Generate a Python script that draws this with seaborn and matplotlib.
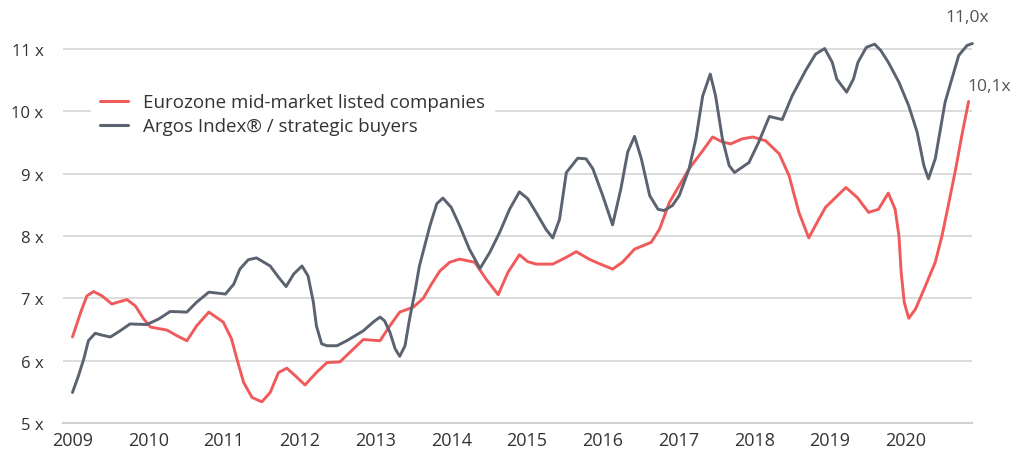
import numpy as np
import pandas as pd
import matplotlib
matplotlib.use("Agg")
import matplotlib.pyplot as plt
import seaborn as sns
from matplotlib.lines import Line2D

# ---- data ----
euro_x = [2009.00, 2009.11, 2009.19, 2009.28, 2009.39, 2009.52, 2009.63, 2009.72, 2009.83,
          2009.94, 2010.03, 2010.25, 2010.38, 2010.51, 2010.64, 2010.80, 2010.99, 2011.10,
          2011.17, 2011.26, 2011.37, 2011.50, 2011.61, 2011.72, 2011.83, 2011.94, 2012.07,
          2012.22, 2012.36, 2012.53, 2012.71, 2012.84, 2013.06, 2013.19, 2013.32, 2013.50,
          2013.63, 2013.74, 2013.85, 2013.98, 2014.11, 2014.31, 2014.46, 2014.62, 2014.75,
          2014.90, 2015.01, 2015.12, 2015.34, 2015.52, 2015.65, 2015.82, 2015.91, 2016.13,
          2016.26, 2016.42, 2016.64, 2016.75, 2016.88, 2017.14, 2017.32, 2017.45, 2017.58,
          2017.69, 2017.84, 2017.98, 2018.15, 2018.33, 2018.46, 2018.59, 2018.72, 2018.83,
          2018.94, 2019.21, 2019.36, 2019.51, 2019.64, 2019.77, 2019.86, 2019.91, 2019.94,
          2019.98, 2020.04, 2020.13, 2020.26, 2020.39, 2020.48, 2020.57, 2020.66, 2020.74,
          2020.83]
euro_y = [6.38, 6.78, 7.04, 7.11, 7.04, 6.91, 6.95, 6.98, 6.88,
          6.67, 6.54, 6.49, 6.40, 6.32, 6.56, 6.78, 6.62, 6.35,
          6.03, 5.65, 5.41, 5.34, 5.49, 5.81, 5.88, 5.76, 5.61,
          5.81, 5.97, 5.98, 6.19, 6.34, 6.32, 6.56, 6.78, 6.86,
          7.00, 7.23, 7.44, 7.58, 7.63, 7.58, 7.31, 7.06, 7.42,
          7.70, 7.59, 7.55, 7.55, 7.66, 7.75, 7.63, 7.58, 7.47,
          7.58, 7.79, 7.90, 8.11, 8.54, 9.08, 9.37, 9.59, 9.51,
          9.48, 9.56, 9.59, 9.53, 9.32, 8.97, 8.38, 7.97, 8.22,
          8.46, 8.78, 8.62, 8.38, 8.43, 8.69, 8.43, 8.01, 7.42,
          6.94, 6.68, 6.83, 7.20, 7.58, 8.01, 8.54, 9.08, 9.61,
          10.16]

argos_x = [2009.00, 2009.08, 2009.15, 2009.21, 2009.30, 2009.39, 2009.50, 2009.63, 2009.76,
           2009.98, 2010.14, 2010.29, 2010.51, 2010.64, 2010.80, 2011.02, 2011.13, 2011.21,
           2011.32, 2011.43, 2011.61, 2011.72, 2011.82, 2011.92, 2012.03, 2012.11, 2012.18,
           2012.22, 2012.29, 2012.36, 2012.49, 2012.62, 2012.84, 2012.97, 2013.06, 2013.12,
           2013.19, 2013.26, 2013.32, 2013.39, 2013.45, 2013.52, 2013.58, 2013.72, 2013.81,
           2013.89, 2014.00, 2014.11, 2014.24, 2014.38, 2014.51, 2014.64, 2014.77, 2014.90,
           2015.01, 2015.12, 2015.25, 2015.34, 2015.43, 2015.52, 2015.67, 2015.78, 2015.87,
           2016.00, 2016.13, 2016.24, 2016.33, 2016.42, 2016.51, 2016.62, 2016.73, 2016.81,
           2016.92, 2017.01, 2017.14, 2017.23, 2017.32, 2017.42, 2017.49, 2017.58, 2017.67,
           2017.74, 2017.93, 2018.06, 2018.20, 2018.37, 2018.50, 2018.68, 2018.81, 2018.93,
           2019.03, 2019.09, 2019.22, 2019.31, 2019.37, 2019.48, 2019.59, 2019.67, 2019.77,
           2019.91, 2020.04, 2020.15, 2020.24, 2020.30, 2020.39, 2020.52, 2020.70, 2020.81,
           2020.88]
argos_y = [5.49, 5.76, 6.03, 6.32, 6.44, 6.41, 6.38, 6.48, 6.59,
           6.58, 6.67, 6.79, 6.78, 6.94, 7.10, 7.07, 7.23, 7.47,
           7.62, 7.65, 7.52, 7.34, 7.19, 7.39, 7.52, 7.36, 6.94,
           6.56, 6.27, 6.24, 6.24, 6.32, 6.48, 6.62, 6.70, 6.64,
           6.46, 6.19, 6.07, 6.24, 6.67, 7.10, 7.52, 8.17, 8.52,
           8.61, 8.46, 8.17, 7.79, 7.48, 7.74, 8.06, 8.43, 8.71,
           8.60, 8.38, 8.11, 7.97, 8.27, 9.02, 9.25, 9.24, 9.08,
           8.65, 8.18, 8.76, 9.35, 9.60, 9.24, 8.65, 8.43, 8.41,
           8.49, 8.65, 9.08, 9.56, 10.25, 10.60, 10.25, 9.56, 9.13,
           9.02, 9.18, 9.51, 9.92, 9.87, 10.25, 10.66, 10.92, 11.01,
           10.79, 10.52, 10.31, 10.52, 10.79, 11.03, 11.08, 10.98, 10.79,
           10.47, 10.09, 9.67, 9.13, 8.92, 9.24, 10.15, 10.90, 11.06,
           11.09]

series_names = ["Eurozone mid-market listed companies", "Argos Index® / strategic buyers"]
colors = ["#f05a5b", "#5b6270"]
year_labels = list(range(2009, 2021))
y_ticks = [5, 6, 7, 8, 9, 10, 11]
end_labels = ["11,0x", "10,1x"]

df = pd.concat([
    pd.DataFrame({"year": euro_x, "value": euro_y, "series": series_names[0]}),
    pd.DataFrame({"year": argos_x, "value": argos_y, "series": series_names[1]}),
], ignore_index=True)

sns.set_style("white")
plt.rcParams["font.family"] = ["Open Sans", "DejaVu Sans"]

fig = plt.figure(figsize=(10.24, 4.6), dpi=100)
ax = fig.add_axes([63 / 1024, 1 - 424 / 460, (972 - 63) / 1024, (424 - 19) / 460])

sns.lineplot(data=df, x="year", y="value", hue="series", hue_order=series_names,
             palette=colors, linewidth=2.1, ax=ax, legend=False, sort=False,
             estimator=None)
for ln in ax.get_lines():
    ln.set_solid_joinstyle("round")
    ln.set_solid_capstyle("round")
    ln.set_clip_on(False)

ax.set_xlim(2009 - 9 / 75.9, 2009 + 900 / 75.9)
ax.set_ylim(5, 11.5)

# grid lines
for v in y_ticks[1:]:
    ax.axhline(v, color="#d9d9d9", linewidth=1.3, zorder=0)

ax.set_yticks(y_ticks)
ax.set_yticklabels([f"{v} x" for v in y_ticks])
ax.set_xticks(year_labels)
ax.set_xticklabels([str(y) for y in year_labels])
ax.set_xticks(np.arange(2008.875, 2020.9, 0.25), minor=True)
ax.tick_params(axis="y", length=0, pad=14, labelsize=12, labelcolor="#333333")
ax.tick_params(axis="x", which="major", length=0, pad=6, labelsize=13, labelcolor="#333333")
ax.tick_params(axis="x", which="minor", length=5, width=1.2, color="#cfcfcf")
ax.set_xlabel("")
ax.set_ylabel("")

for s in ["top", "right", "left"]:
    ax.spines[s].set_visible(False)
ax.spines["bottom"].set_color("#d0d0d0")
ax.spines["bottom"].set_linewidth(1.5)

# legend
handles = [Line2D([0], [0], color=c, lw=2.2) for c in colors]
leg = ax.legend(handles, series_names, loc="upper left", bbox_to_anchor=(0.02, 0.86),
                frameon=True, fancybox=False, framealpha=1, edgecolor="white",
                facecolor="white", fontsize=13.5, handlelength=1.5, handletextpad=0.8,
                labelspacing=0.3, borderpad=0.5, labelcolor="#333333")
leg.set_zorder(3)

# end labels
ax.annotate(end_labels[0], xy=(argos_x[-1], argos_y[-1]), xytext=(-4, 19),
            textcoords="offset points", ha="center", va="center",
            fontsize=12.5, color="#555555", annotation_clip=False)
ax.annotate(end_labels[1], xy=(euro_x[-1], euro_y[-1]), xytext=(15, 11),
            textcoords="offset points", ha="center", va="center",
            fontsize=12.5, color="#555555", annotation_clip=False)

fig.savefig("out.png", dpi=100)
